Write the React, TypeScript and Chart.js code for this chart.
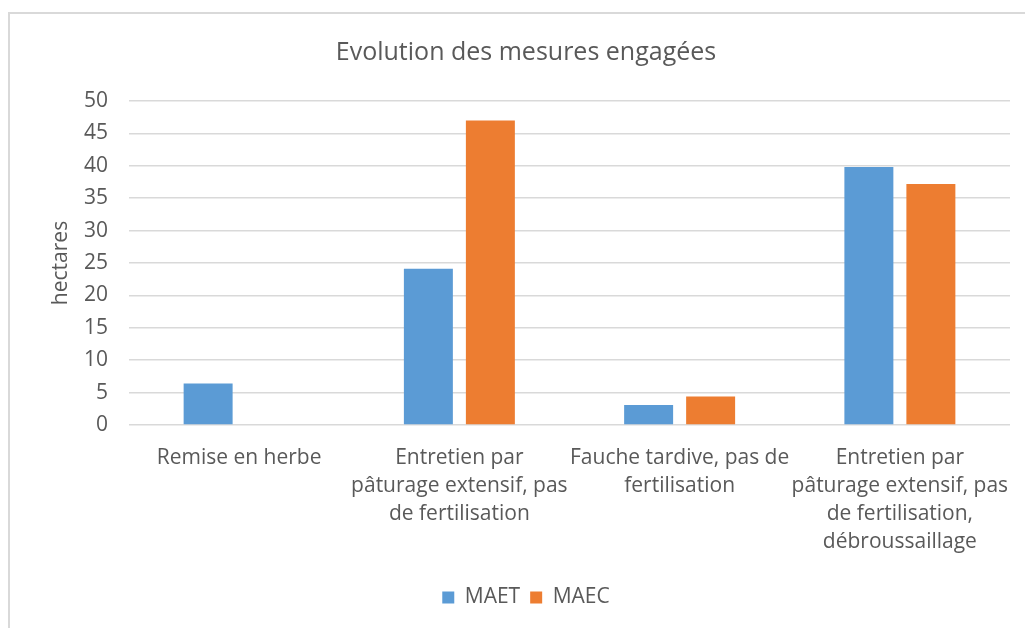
import React, { useEffect, useRef } from "react";
import { Chart, registerables } from "chart.js";

Chart.register(...registerables);

const chartTitle = "Evolution des mesures engagées";
const yAxisTitle = "hectares";
const categories: string[][] = [
  ["Remise en herbe"],
  ["Entretien par", "pâturage extensif, pas", "de fertilisation"],
  ["Fauche tardive, pas de", "fertilisation"],
  ["Entretien par", "pâturage extensif, pas", "de fertilisation,", "débroussaillage"],
];
const seriesNames = ["MAET", "MAEC"];
const maetValues = [6.4, 24.1, 3.1, 39.8];
const maecValues = [0, 47.0, 4.4, 37.2];
const yMin = 0;
const yMax = 50;
const yStep = 5;

const TEXT = "#595959";
const GRID = "#d9d9d9";
const FONT = "'Open Sans', sans-serif";

export default function App() {
  const ref = useRef<HTMLCanvasElement | null>(null);

  useEffect(() => {
    if (!ref.current) return;
    const chart = new Chart(ref.current, {
      type: "bar",
      data: {
        labels: categories,
        datasets: [
          {
            label: seriesNames[0],
            data: maetValues,
            backgroundColor: "#5B9BD5",
            borderWidth: 0,
            categoryPercentage: 0.563,
            barPercentage: 0.79,
          },
          {
            label: seriesNames[1],
            data: maecValues,
            backgroundColor: "#ED7D31",
            borderWidth: 0,
            categoryPercentage: 0.563,
            barPercentage: 0.79,
          },
        ],
      },
      options: {
        responsive: false,
        animation: false,
        events: [],
        layout: { padding: { left: 32, right: 40, top: 0, bottom: 0 } },
        plugins: {
          title: {
            display: true,
            text: chartTitle,
            color: TEXT,
            font: { family: FONT, size: 25, weight: "normal", lineHeight: 1.2 },
            padding: { top: 24, bottom: 33 },
          },
          legend: {
            display: true,
            position: "bottom",
            labels: {
              color: TEXT,
              font: { family: FONT, size: 21 },
              boxWidth: 12,
              boxHeight: 12,
              padding: 10,
            },
          },
          tooltip: { enabled: false },
        },
        scales: {
          x: {
            grid: { display: false, drawTicks: false },
            border: { display: false },
            ticks: {
              color: TEXT,
              font: { family: FONT, size: 21, lineHeight: 1.33 },
              padding: 19,
              maxRotation: 0,
              minRotation: 0,
              autoSkip: false,
            },
            afterFit: (scale: any) => {
              scale.height = 152;
            },
          },
          y: {
            min: yMin,
            max: yMax,
            grid: { color: GRID, lineWidth: 1.5, drawTicks: false },
            border: { display: false },
            ticks: {
              stepSize: yStep,
              color: TEXT,
              font: { family: FONT, size: 21 },
              padding: 21,
            },
            title: {
              display: true,
              text: yAxisTitle,
              color: TEXT,
              font: { family: FONT, size: 21, lineHeight: 1.2 },
              padding: { top: 6, bottom: 0 },
            },
            afterFit: (scale: any) => {
              scale.width = 87;
            },
          },
        },
      },
    });
    return () => chart.destroy();
  }, []);

  return (
    <div
      style={{
        position: "absolute",
        left: 8,
        top: 12,
        width: 1017,
        height: 616,
        overflow: "hidden",
        borderLeft: "2px solid #d9d9d9",
        borderTop: "2px solid #d9d9d9",
        background: "#ffffff",
      }}
    >
      <canvas
        ref={ref}
        width={1040}
        height={604}
        style={{ display: "block", width: 1040, height: 604 }}
      />
    </div>
  );
}
